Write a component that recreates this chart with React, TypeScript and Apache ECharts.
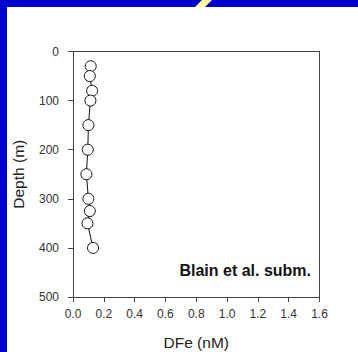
import React, { useEffect, useRef } from "react";
import * as echarts from "echarts";

const dfe = [0.115, 0.109, 0.124, 0.113, 0.1, 0.096, 0.087, 0.1, 0.109, 0.094, 0.13];
const depth = [30, 50, 80, 100, 150, 200, 250, 300, 325, 350, 400];
const xTicks = { min: 0, max: 1.6, interval: 0.2 };
const yTicks = { min: 0, max: 500, interval: 100 };
const annotation = "Blain et al. subm.";
const xName = "DFe (nM)";
const yName = "Depth (m)";

const FONT = "Liberation Sans, Arial, sans-serif";
const AXIS_COLOR = "#444";

export default function App() {
  const ref = useRef<HTMLDivElement>(null);
  useEffect(() => {
    if (!ref.current) return;
    const chart = echarts.init(ref.current, null, { renderer: "svg" });
    const data = dfe.map((v, i) => [v, depth[i]]);
    chart.setOption({
      animation: false,
      backgroundColor: "#ffffff",
      grid: {
        left: 73,
        top: 51.5,
        right: 38.5,
        bottom: 55,
        containLabel: false,
        outerBoundsMode: "none",
      },
      xAxis: [
        {
          type: "value",
          position: "bottom",
          min: xTicks.min,
          max: xTicks.max,
          interval: xTicks.interval,
          splitLine: { show: false },
          axisLine: { show: true, onZero: false, lineStyle: { color: AXIS_COLOR, width: 1 } },
          axisTick: { show: true, inside: false, length: 5, lineStyle: { color: AXIS_COLOR } },
          axisLabel: {
            color: "#333",
            fontSize: 12,
            fontFamily: FONT,
            margin: 11,
            formatter: (v: number) => v.toFixed(1),
          },
          name: xName,
          nameLocation: "middle",
          nameGap: 45,
          nameTextStyle: {
            color: "#222",
            fontSize: 15.5,
            fontFamily: FONT,
            verticalAlign: "middle",
            align: "center",
          },
        },
        {
          type: "value",
          position: "top",
          min: xTicks.min,
          max: xTicks.max,
          interval: xTicks.interval,
          splitLine: { show: false },
          axisLine: { show: true, onZero: false, lineStyle: { color: AXIS_COLOR, width: 1 } },
          axisTick: { show: false },
          axisLabel: { show: false },
        },
      ],
      yAxis: [
        {
          type: "value",
          position: "left",
          inverse: true,
          min: yTicks.min,
          max: yTicks.max,
          interval: yTicks.interval,
          splitLine: { show: false },
          axisLine: { show: true, onZero: false, lineStyle: { color: AXIS_COLOR, width: 1 } },
          axisTick: { show: true, inside: false, length: 5, lineStyle: { color: AXIS_COLOR } },
          axisLabel: { color: "#333", fontSize: 12, fontFamily: FONT, margin: 14 },
          name: yName,
          nameLocation: "middle",
          nameGap: 55,
          nameRotate: 90,
          nameTextStyle: {
            color: "#222",
            fontSize: 15.5,
            fontFamily: FONT,
            verticalAlign: "middle",
            align: "center",
          },
        },
        {
          type: "value",
          position: "right",
          inverse: true,
          min: yTicks.min,
          max: yTicks.max,
          interval: yTicks.interval,
          splitLine: { show: false },
          axisLine: { show: true, onZero: false, lineStyle: { color: AXIS_COLOR, width: 1 } },
          axisTick: { show: false },
          axisLabel: { show: false },
        },
      ],
      series: [
        {
          type: "line",
          xAxisIndex: 0,
          yAxisIndex: 0,
          data,
          symbol: "circle",
          symbolSize: 11,
          showAllSymbol: true,
          lineStyle: { color: "#111", width: 1 },
          itemStyle: { color: "#ffffff", borderColor: "#111", borderWidth: 1 },
        },
      ],
      graphic: [
        { type: "rect", left: 0, top: 0, shape: { width: 7, height: 352 }, style: { fill: "#0000CC" }, silent: true },
        { type: "rect", left: 0, top: 0, shape: { width: 358, height: 7 }, style: { fill: "#0000CC" }, silent: true },
        {
          type: "polygon",
          shape: { points: [[202, 0], [212, 0], [205, 7], [195, 7]] },
          style: { fill: "#FFFF99" },
          silent: true,
        },
        {
          type: "text",
          right: 47,
          top: 262,
          style: { text: annotation, fill: "#111", font: "bold 16px " + FONT },
        },
      ],
    });
    return () => chart.dispose();
  }, []);
  return (
    <div
      ref={ref}
      style={{ position: "fixed", left: 0, top: 0, width: 358, height: 352, background: "#fff" }}
    />
  );
}
